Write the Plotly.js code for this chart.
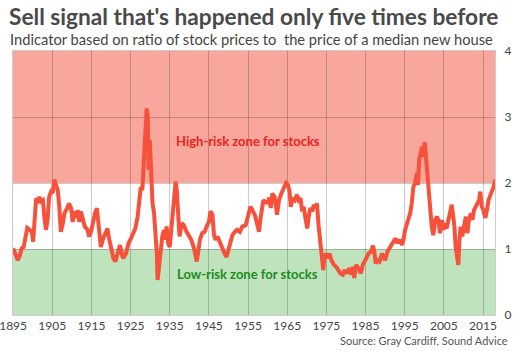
<!DOCTYPE html>
<html>
<head>
<meta charset="utf-8">
<script src="https://cdn.plot.ly/plotly-3.0.1.min.js"></script>
<style>html,body{margin:0;padding:0;background:#fff;}#chart{width:526px;height:351px;}</style>
</head>
<body>
<div id="chart"></div>
<script>
// Indicator: ratio of stock prices to the price of a median new house
const years = [1895.0,1895.5,1896.2,1896.6,1897.2,1897.7,1898.1,1898.6,1899.2,1899.8,1900.1,1900.4,1900.9,1901.3,1901.7,1902.1,1902.6,1903.0,1903.4,1903.8,1904.2,1904.7,1905.1,1905.5,1906.0,1906.4,1906.8,1907.2,1907.7,1908.1,1908.8,1909.3,1909.8,1910.2,1910.6,1911.1,1911.5,1911.9,1912.3,1912.8,1913.3,1914.0,1914.4,1914.9,1915.3,1915.9,1916.4,1917.0,1917.4,1918.0,1918.7,1919.1,1919.5,1920.0,1920.6,1921.1,1921.7,1922.3,1922.8,1923.1,1923.8,1924.5,1925.1,1925.6,1926.2,1926.8,1927.2,1927.6,1928.0,1928.5,1928.9,1929.1,1929.4,1929.6,1929.9,1930.2,1930.6,1931.0,1931.4,1931.7,1931.9,1932.3,1932.7,1933.1,1933.5,1933.8,1934.2,1934.6,1935.0,1935.5,1936.1,1936.5,1936.8,1937.2,1937.5,1938.1,1938.6,1939.3,1939.9,1940.5,1941.2,1941.6,1941.9,1942.2,1942.7,1943.3,1943.9,1944.4,1945.0,1945.4,1945.9,1946.3,1946.7,1947.2,1947.8,1948.4,1949.0,1949.5,1949.9,1950.4,1951.0,1951.6,1952.2,1952.9,1953.5,1954.4,1955.0,1955.6,1956.1,1956.7,1957.2,1957.8,1958.2,1958.9,1959.5,1960.1,1960.4,1960.8,1961.2,1961.8,1962.4,1962.9,1963.5,1964.1,1964.7,1965.2,1965.6,1965.9,1966.4,1966.9,1967.5,1967.9,1968.4,1968.8,1969.2,1969.6,1970.1,1970.5,1970.9,1971.4,1971.8,1972.2,1972.6,1973.0,1973.5,1973.9,1974.2,1974.5,1974.9,1975.4,1975.8,1976.3,1976.9,1977.5,1978.0,1978.6,1979.2,1979.7,1980.3,1980.9,1981.4,1981.8,1982.1,1982.6,1983.2,1983.8,1984.3,1984.9,1985.4,1985.8,1986.4,1986.9,1987.2,1987.6,1988.1,1988.6,1989.2,1989.6,1990.0,1990.6,1991.3,1992.0,1992.6,1993.2,1993.7,1994.3,1994.7,1995.1,1995.6,1996.0,1996.4,1996.8,1997.2,1997.7,1998.1,1998.4,1998.7,1999.1,1999.4,1999.8,2000.1,2000.5,2000.8,2001.2,2001.5,2001.9,2002.3,2002.8,2003.2,2003.6,2004.0,2004.5,2004.9,2005.3,2005.7,2006.2,2006.6,2007.0,2007.4,2007.7,2008.0,2008.4,2008.7,2009.0,2009.3,2009.7,2010.2,2010.6,2011.0,2011.4,2011.9,2012.3,2012.7,2013.1,2013.6,2014.0,2014.3,2014.7,2015.1,2015.6,2016.0,2016.4,2016.9,2017.3,2017.7,2018.1];
const ratio = [1.01,0.94,0.83,0.88,1.01,1.03,1.14,1.32,1.29,1.26,1.11,1.44,1.77,1.70,1.79,1.72,1.74,1.47,1.29,1.44,1.79,1.87,1.85,2.05,1.94,1.89,1.64,1.26,1.39,1.54,1.62,1.69,1.62,1.41,1.57,1.47,1.59,1.41,1.57,1.47,1.34,1.29,1.19,1.26,1.41,1.54,1.62,1.29,1.03,1.16,1.24,1.31,1.16,1.03,0.86,0.81,0.93,1.06,0.91,0.86,0.93,1.09,1.16,1.24,1.31,1.49,1.79,1.94,1.89,2.40,2.90,3.13,3.00,2.20,2.65,2.25,1.69,1.54,1.24,0.93,0.53,0.78,0.98,1.19,1.29,1.14,1.34,1.09,1.03,1.39,1.74,2.02,1.89,1.54,1.19,1.39,1.36,1.26,1.19,1.14,1.01,0.88,0.81,0.93,1.14,1.24,1.26,1.34,1.41,1.57,1.52,1.21,1.14,1.19,1.09,1.01,0.93,0.88,0.98,1.09,1.21,1.26,1.29,1.26,1.34,1.36,1.49,1.64,1.59,1.52,1.41,1.26,1.47,1.74,1.71,1.70,1.78,1.62,1.84,1.79,1.52,1.74,1.84,1.92,2.00,1.97,1.87,1.64,1.77,1.74,1.82,1.74,1.77,1.57,1.64,1.49,1.31,1.49,1.62,1.57,1.67,1.62,1.69,1.36,1.09,0.88,0.68,0.88,0.93,0.86,0.93,0.83,0.76,0.73,0.68,0.63,0.61,0.68,0.63,0.71,0.61,0.73,0.56,0.76,0.71,0.63,0.76,0.83,0.88,0.93,0.96,1.05,0.98,0.78,0.83,0.81,0.93,0.88,0.83,0.96,1.03,1.09,1.16,1.09,1.14,1.06,1.14,1.29,1.39,1.47,1.54,1.69,1.94,2.00,2.15,1.97,2.35,2.45,2.55,2.40,2.62,2.35,2.12,1.89,1.69,1.34,1.21,1.44,1.49,1.44,1.24,1.44,1.29,1.39,1.31,1.44,1.57,1.67,1.49,1.34,1.03,0.83,0.76,1.14,1.34,1.19,1.39,1.49,1.24,1.44,1.54,1.44,1.59,1.64,1.69,1.74,1.87,1.64,1.59,1.47,1.59,1.74,1.82,1.87,1.94,2.05];
const xTickVals = [1895,1905,1915,1925,1935,1945,1955,1965,1975,1985,1995,2005,2015];
const xTickText = ["1895","1905","1915","1925","1935","1945","1955","1965","1975","1985","1995","2005","2015"];
const yTickVals = [0,1,2,3,4];
const yTickText = ["0","1","2","3","4"];
const zoneBounds = [0,1,2,4];
const zoneLabels = ["Low-risk zone for stocks","High-risk zone for stocks"];
const titleText = "Sell signal that's happened only five times before";
const subtitleText = "Indicator based on ratio of stock prices to&nbsp; the price of a median new house";
const sourceText = "Source: Gray Cardiff, Sound Advice";

const FONT = "Lato, 'Open Sans', sans-serif";
const grid = "rgba(0,0,0,0.2)";

const trace = {
  x: years, y: ratio, type: 'scatter', mode: 'lines',
  line: {color: '#f7513b', width: 4, shape: 'linear'},
  hoverinfo: 'skip'
};

const layout = {
  width: 526, height: 351,
  margin: {l: 13, r: 31, t: 51, b: 36},
  paper_bgcolor: '#fff', plot_bgcolor: '#fff',
  showlegend: false,
  font: {family: FONT, color: '#444', size: 12},
  title: {
    text: '<b>' + titleText + '</b>',
    font: {family: FONT, size: 22.7, color: '#4a4a4a'},
    xref: 'container', yref: 'container',
    x: 9/526, xanchor: 'left', y: 1 - 17/351, yanchor: 'middle'
  },
  xaxis: {
    range: [1894.97, 2018.06], tickmode: 'array', tickvals: xTickVals, ticktext: xTickText,
    showgrid: true, gridcolor: grid, gridwidth: 1, zeroline: false,
    showline: true, linecolor: grid, mirror: true, ticklabeloverflow: 'allow',
    ticks: '', tickfont: {size: 12, color: '#444'}, fixedrange: true
  },
  yaxis: {
    range: [0, 4], side: 'right', tickmode: 'array', tickvals: yTickVals, ticktext: yTickText,
    showgrid: true, gridcolor: grid, gridwidth: 1, zeroline: false,
    showline: true, linecolor: grid, mirror: true, ticklabeloverflow: 'allow',
    ticks: '', ticklabelstandoff: 6, tickfont: {size: 12, color: '#444'}, fixedrange: true
  },
  shapes: [
    {type: 'rect', xref: 'paper', yref: 'y', x0: 0, x1: 1, y0: zoneBounds[0], y1: zoneBounds[1], fillcolor: '#bfe3bd', line: {width: 0}, layer: 'below'},
    {type: 'rect', xref: 'paper', yref: 'y', x0: 0, x1: 1, y0: zoneBounds[2], y1: zoneBounds[3], fillcolor: '#f9a69d', line: {width: 0}, layer: 'below'}
  ],
  annotations: [
    {text: subtitleText, xref: 'paper', yref: 'paper', x: -5/482, y: 1 + 12/264, xanchor: 'left', yanchor: 'middle', showarrow: false, font: {family: FONT, size: 14.7, color: '#444'}},
    {text: '<b>' + zoneLabels[1] + '</b>', x: 1955.1, y: 2.63, xref: 'x', yref: 'y', showarrow: false, font: {family: FONT, size: 13, color: '#e8241c'}},
    {text: '<b>' + zoneLabels[0] + '</b>', x: 1954.9, y: 0.62, xref: 'x', yref: 'y', showarrow: false, font: {family: FONT, size: 13, color: '#1e8c1e'}},
    {text: sourceText, xref: 'paper', yref: 'paper', x: 1 + 15/482, y: -25/264, xanchor: 'right', yanchor: 'middle', showarrow: false, font: {family: FONT, size: 11, color: '#555'}}
  ]
};

Plotly.newPlot('chart', [trace], layout, {staticPlot: true, displayModeBar: false});
</script>
</body>
</html>
